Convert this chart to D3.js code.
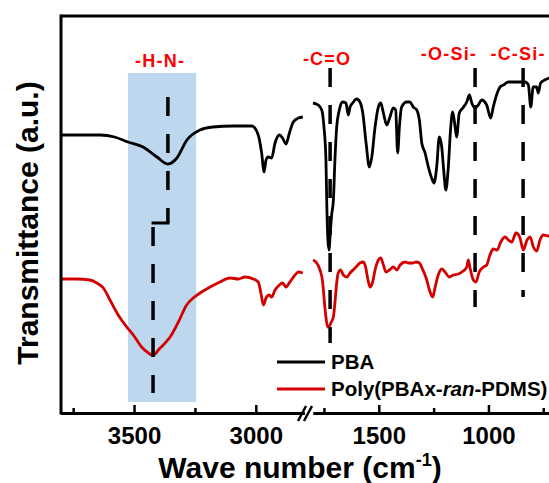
<!DOCTYPE html>
<html>
<head>
<meta charset="utf-8">
<script src="https://cdn.jsdelivr.net/npm/d3@7"></script>
<style>
  html, body { margin: 0; padding: 0; background: #fff; overflow: hidden; }
  svg { display: block; font-family: Arial, "Liberation Sans", sans-serif; }
</style>
</head>
<body>
<svg id="chart" width="549" height="483"></svg>
<script>
// FTIR spectra, [wavenumber (cm-1), transmittance (a.u.)], split at the axis break
const pbaHigh = [
  [3800, 278], [3640, 278], [3580, 276], [3525, 271], [3463, 266], [3406, 256],
  [3361, 249], [3324, 255], [3283, 273], [3229, 283], [3176, 286], [3094, 287],
  [3016, 287], [2990, 278], [2976, 260], [2966, 241], [2958, 253], [2949, 256],
  [2935, 255], [2921, 270], [2903, 278], [2890, 275], [2876, 269], [2862, 280],
  [2846, 291], [2825, 295], [2807, 296]
];
const pbaLow = [
  [1800, 310], [1776, 308], [1760, 303], [1750, 286], [1741, 253], [1737, 208],
  [1732, 173], [1727, 163], [1721, 181], [1715, 198], [1707, 213], [1700, 253],
  [1692, 286], [1680, 303], [1665, 311], [1650, 310], [1639, 298], [1631, 306],
  [1619, 310], [1601, 314], [1586, 311], [1573, 300], [1558, 270], [1543, 246],
  [1532, 256], [1517, 286], [1502, 306], [1491, 310], [1479, 300], [1464, 288],
  [1449, 296], [1434, 305], [1423, 303], [1414, 260], [1406, 286], [1396, 306],
  [1373, 311], [1358, 311], [1343, 306], [1327, 303], [1315, 293], [1304, 270],
  [1289, 260], [1274, 246], [1259, 235], [1248, 230], [1236, 246], [1224, 276],
  [1213, 266], [1203, 240], [1194, 223], [1183, 246], [1172, 286], [1163, 301],
  [1152, 286], [1145, 276], [1133, 300], [1117, 305], [1099, 311], [1087, 318],
  [1076, 310], [1061, 305], [1046, 308], [1031, 313], [1008, 308], [990, 295],
  [978, 306], [960, 320], [947, 326], [932, 328], [909, 331], [879, 331],
  [856, 331], [833, 331], [818, 328], [807, 306], [796, 326], [780, 326],
  [773, 320], [762, 330], [743, 333], [723, 335], [673, 337]
];
const copolyHigh = [
  [3800, 134], [3736, 134], [3681, 133], [3653, 130], [3626, 125], [3599, 113],
  [3565, 98], [3530, 86], [3503, 78], [3469, 66], [3441, 60], [3426, 58],
  [3414, 59], [3400, 63], [3380, 68], [3352, 76], [3318, 91], [3284, 108],
  [3257, 115], [3229, 120], [3195, 125], [3147, 131], [3106, 135], [3072, 134],
  [3044, 136], [3010, 134], [2990, 131], [2979, 120], [2969, 108], [2958, 115],
  [2945, 118], [2935, 116], [2921, 123], [2903, 128], [2890, 130], [2876, 126],
  [2860, 131], [2839, 138], [2825, 141], [2807, 140]
];
const copolyLow = [
  [1800, 153], [1783, 150], [1768, 143], [1756, 131], [1750, 116], [1741, 96],
  [1733, 86], [1727, 86], [1719, 90], [1707, 96], [1700, 110], [1692, 130],
  [1685, 140], [1674, 143], [1662, 138], [1646, 136], [1631, 140], [1608, 145],
  [1586, 150], [1571, 151], [1560, 146], [1551, 135], [1540, 126], [1528, 131],
  [1517, 143], [1502, 153], [1491, 155], [1479, 148], [1467, 141], [1452, 143],
  [1434, 146], [1418, 143], [1403, 148], [1380, 151], [1365, 150], [1345, 150],
  [1330, 151], [1315, 150], [1299, 143], [1284, 135], [1269, 123], [1254, 116],
  [1244, 125], [1229, 138], [1213, 144], [1198, 141], [1178, 136], [1160, 138],
  [1137, 139], [1115, 142], [1099, 146], [1092, 153], [1084, 145], [1069, 133],
  [1057, 131], [1042, 141], [1023, 146], [1008, 148], [993, 158], [978, 164],
  [960, 163], [944, 171], [924, 176], [909, 173], [894, 171], [874, 180],
  [856, 175], [841, 163], [824, 173], [810, 176], [795, 166], [780, 162],
  [765, 173], [750, 178], [727, 177], [674, 180]
];

// Axis ticks on each side of the break
const majorHigh = [3500, 3000];
const minorHigh = [3750, 3250];
const majorLow = [1500, 1000];
const minorLow = [1750, 1250, 750];

// Band assignments: N-H band (from, to, top, bottom in a.u.) and its stepped marker
const nhBand = [3525, 3245, 340, 11];
const nhUpper = [[3361, 316], [3361, 190]];
const nhStep = [[3361, 190], [3422, 190]];
const nhLower = [[3422, 186], [3422, 20]];
const nhLabel = ["-H-N-", 3393, 346];

// Other assignments: dashed markers (wavenumber, top, bottom) and labels
const markerLabels = ["-C=O", "-O-Si-", "-C-Si-"];
const markerWn = [1722, 1061, 842];
const markerTop = [345, 345, 345];
const markerBottom = [70, 106, 116];
const labelWn = [1736, 1180, 865];
const labelLevel = [348, 353, 353];

const seriesNames = ["PBA", "Poly(PBAx-ran-PDMS)"];
const seriesColors = ["#000000", "#d40000"];

const svg = d3.select("#chart");
const axisY = 413, topY = 16, leftX = 61;

const xHigh = d3.scaleLinear().domain([3800, 2800]).range([leftX, 304.5]);
const xLow = d3.scaleLinear().domain([1800, 650]).range([313, 565.2]);
const xw = w => (w >= 2000 ? xHigh(w) : xLow(w));
const y = d3.scaleLinear().domain([0, 400]).range([axisY, 13]);

// highlighted N-H band
svg.append("rect")
  .attr("x", xHigh(nhBand[0]))
  .attr("y", y(nhBand[2]))
  .attr("width", xHigh(nhBand[1]) - xHigh(nhBand[0]))
  .attr("height", y(nhBand[3]) - y(nhBand[2]))
  .attr("fill", "#bdd7ee");

// spectra
const line = d3.line().x(d => xw(d[0])).y(d => y(d[1])).curve(d3.curveMonotoneX);
[[pbaHigh, 0], [pbaLow, 0], [copolyHigh, 1], [copolyLow, 1]].forEach(([data, i]) => {
  svg.append("path")
    .datum(data)
    .attr("d", line)
    .attr("fill", "none")
    .attr("stroke", seriesColors[i])
    .attr("stroke-width", 2.8)
    .attr("stroke-linejoin", "round");
});

// dashed marker lines
const dash = "19,18";
const straight = d3.line().x(d => xw(d[0])).y(d => y(d[1]));
[nhUpper, nhLower].forEach(seg => {
  svg.append("path")
    .attr("d", straight(seg))
    .attr("fill", "none").attr("stroke", "#000").attr("stroke-width", 3.5)
    .attr("stroke-dasharray", dash);
});
svg.append("path")
  .attr("d", straight(nhStep))
  .attr("fill", "none").attr("stroke", "#000").attr("stroke-width", 3)
  .attr("stroke-linecap", "square");
markerWn.forEach((w, i) => {
  svg.append("line")
    .attr("x1", xw(w)).attr("x2", xw(w))
    .attr("y1", y(markerTop[i])).attr("y2", y(markerBottom[i]))
    .attr("stroke", "#000").attr("stroke-width", 3.5)
    .attr("stroke-dasharray", dash);
});

// band labels
const labelStyle = sel => sel
  .attr("text-anchor", "middle")
  .attr("fill", "#ff0000")
  .attr("font-size", 18)
  .attr("font-weight", "bold")
  .attr("letter-spacing", "1.2px");
svg.append("text")
  .attr("x", xw(nhLabel[1])).attr("y", y(nhLabel[2]))
  .text(nhLabel[0]).call(labelStyle);
markerLabels.forEach((t, i) => {
  svg.append("text")
    .attr("x", xw(labelWn[i])).attr("y", y(labelLevel[i]))
    .text(t).call(labelStyle);
});

// frame: left and top borders
svg.append("line").attr("x1", leftX).attr("x2", leftX).attr("y1", topY - 1.5).attr("y2", axisY + 1.5)
  .attr("stroke", "#000").attr("stroke-width", 3);
svg.append("line").attr("x1", leftX).attr("x2", 560).attr("y1", topY).attr("y2", topY)
  .attr("stroke", "#000").attr("stroke-width", 3);

// broken x axis
function drawAxis(scale, major, minor) {
  const gMinor = svg.append("g").attr("transform", `translate(0,${axisY})`)
    .call(d3.axisBottom(scale).tickValues(minor).tickSize(-5).tickSizeOuter(0).tickFormat(""));
  const gMajor = svg.append("g").attr("transform", `translate(0,${axisY})`)
    .call(d3.axisBottom(scale).tickValues(major).tickSize(-8).tickSizeOuter(0)
      .tickPadding(14).tickFormat(d3.format("d")));
  [gMinor, gMajor].forEach(g => {
    g.select(".domain").attr("stroke", "#000").attr("stroke-width", 3);
    g.selectAll(".tick line").attr("stroke", "#000").attr("stroke-width", 2.5);
  });
  gMajor.selectAll(".tick text")
    .attr("fill", "#000")
    .attr("font-size", 24)
    .attr("font-weight", "bold")
    .attr("font-family", "Arial, 'Liberation Sans', sans-serif");
}
drawAxis(xHigh, majorHigh, minorHigh);
drawAxis(xLow, majorLow, minorLow);

// axis break marks
[0, 6].forEach(off => {
  svg.append("line")
    .attr("x1", 298 + off).attr("y1", axisY + 8)
    .attr("x2", 306 + off).attr("y2", axisY - 7)
    .attr("stroke", "#000").attr("stroke-width", 2.5);
});

// legend
const legend = svg.append("g").attr("transform", "translate(277,362)");
seriesNames.forEach((name, i) => {
  const row = legend.append("g").attr("transform", `translate(0,${i * 27})`);
  row.append("line").attr("x1", 0).attr("x2", 48).attr("y1", 0).attr("y2", 0)
    .attr("stroke", seriesColors[i]).attr("stroke-width", 2.8);
  const t = row.append("text").attr("x", 54).attr("y", 7)
    .attr("font-size", 20.5).attr("font-weight", "bold").attr("fill", "#000");
  if (i === 0) {
    t.text(name);
  } else {
    const parts = name.split("ran");
    t.append("tspan").text(parts[0]);
    t.append("tspan").attr("font-style", "italic").text("ran");
    t.append("tspan").text(parts[1]);
  }
});

// axis titles
const xt = svg.append("text")
  .attr("x", 300).attr("y", 478)
  .attr("text-anchor", "middle")
  .attr("font-size", 30).attr("font-weight", "bold").attr("fill", "#000");
xt.append("tspan").text("Wave number (cm");
xt.append("tspan").attr("font-size", 18).attr("dy", -12).text("-1");
xt.append("tspan").attr("dy", 12).text(")");

svg.append("text")
  .attr("transform", "translate(38,223) rotate(-90)")
  .attr("text-anchor", "middle")
  .attr("font-size", 30).attr("font-weight", "bold").attr("fill", "#000")
  .text("Transmittance (a.u.)");
</script>
</body>
</html>
